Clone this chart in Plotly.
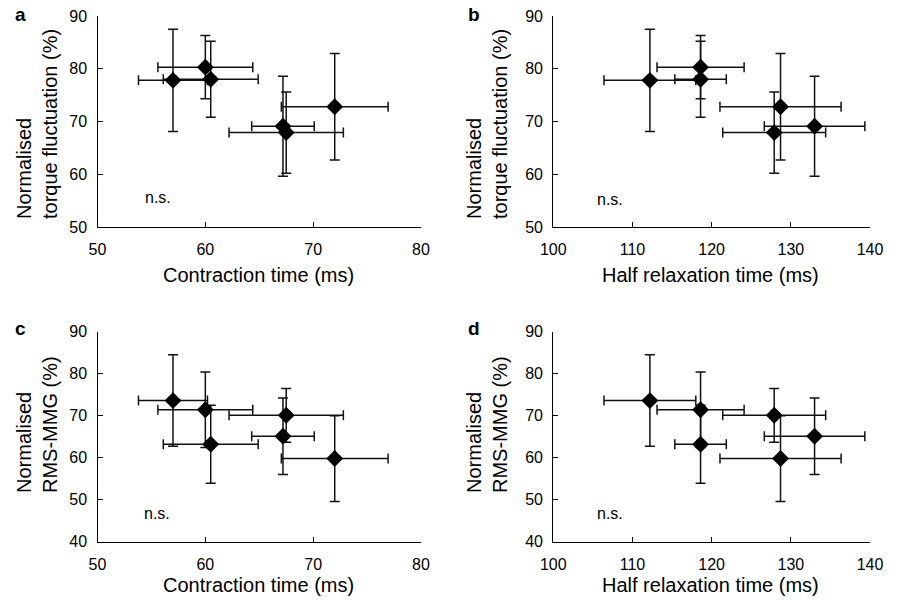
import plotly.graph_objects as go

# Data (6 conditions)
contraction_time = [57.0, 60.0, 60.5, 67.2, 67.5, 72.0]
contraction_time_sd = [3.2, 4.4, 4.4, 2.9, 5.3, 4.95]
half_relax_time = [112.2, 118.6, 118.6, 133.0, 127.9, 128.7]
half_relax_time_sd = [5.8, 5.5, 3.25, 6.35, 6.5, 7.65]
torque_fluct = [77.8, 80.3, 78.0, 69.1, 67.9, 72.8]
torque_fluct_sd = [9.7, 6.0, 7.2, 9.5, 7.7, 10.1]
rms_mmg = [73.6, 71.4, 63.2, 65.1, 70.1, 59.8]
rms_mmg_sd = [10.9, 9.0, 9.3, 9.1, 6.4, 10.2]

ct_ticks = [50, 60, 70, 80]
hrt_ticks = [100, 110, 120, 130, 140]
tf_ticks = [50, 60, 70, 80, 90]
rms_ticks = [40, 50, 60, 70, 80, 90]

W, H = 898, 601
FONT = "Liberation Sans, Arial, Helvetica, sans-serif"

def px(v):
    return v / W

def py(v):
    return 1 - v / H

fig = go.Figure()

panels = [
    (contraction_time, contraction_time_sd, torque_fluct, torque_fluct_sd, "x", "y"),
    (half_relax_time, half_relax_time_sd, torque_fluct, torque_fluct_sd, "x2", "y2"),
    (contraction_time, contraction_time_sd, rms_mmg, rms_mmg_sd, "x3", "y3"),
    (half_relax_time, half_relax_time_sd, rms_mmg, rms_mmg_sd, "x4", "y4"),
]

for xs, xe, ys, ye, xa, ya in panels:
    fig.add_trace(go.Scatter(
        x=xs, y=ys, mode="markers", xaxis=xa, yaxis=ya,
        marker=dict(symbol="diamond", size=13, color="black"),
        error_x=dict(type="data", array=xe, color="#111", thickness=1.5, width=5),
        error_y=dict(type="data", array=ye, color="#111", thickness=1.5, width=5),
        showlegend=False, cliponaxis=False,
    ))

left_dom = [px(97.5), px(421)]
right_dom = [px(553.3), px(870)]
top_dom = [py(227), py(16)]
bot_dom = [py(541.7), py(331.7)]

def axis_style(rng, ticks, dom, anchor, ylike=False):
    return dict(
        range=rng, tickvals=ticks, domain=dom, anchor=anchor,
        showline=True, linecolor="black", linewidth=1.3,
        ticks="inside", ticklen=5, tickwidth=1.3, tickcolor="black",
        showgrid=False, zeroline=False, fixedrange=True, automargin=False,
        tickfont=dict(family=FONT, size=16, color="black"),
        ticklabelstandoff=6 if ylike else 8,
    )

fig.update_layout(
    width=W, height=H,
    margin=dict(l=0, r=0, t=0, b=0, autoexpand=False),
    paper_bgcolor="white", plot_bgcolor="white",
    font=dict(family=FONT, color="black"),
    xaxis=axis_style([50, 80], ct_ticks, left_dom, "y"),
    yaxis=axis_style([50, 90], tf_ticks, top_dom, "x", True),
    xaxis2=axis_style([100, 140], hrt_ticks, right_dom, "y2"),
    yaxis2=axis_style([50, 90], tf_ticks, top_dom, "x2", True),
    xaxis3=axis_style([50, 80], ct_ticks, left_dom, "y3"),
    yaxis3=axis_style([40, 90], rms_ticks, bot_dom, "x3", True),
    xaxis4=axis_style([100, 140], hrt_ticks, right_dom, "y4"),
    yaxis4=axis_style([40, 90], rms_ticks, bot_dom, "x4", True),
)

ann = []
for xc, yc, txt in [(258, 275, "Contraction time (ms)"), (710, 275, "Half relaxation time (ms)"),
                    (258, 585, "Contraction time (ms)"), (710, 585, "Half relaxation time (ms)")]:
    ann.append(dict(x=px(xc), y=py(yc), xref="paper", yref="paper", text=txt, showarrow=False,
                    xanchor="center", yanchor="middle", font=dict(family=FONT, size=20, color="black")))
for xc, yc, txt in [(37, 124, "Normalised<br>torque fluctuation (%)"), (487, 124, "Normalised<br>torque fluctuation (%)"),
                    (37, 425, "Normalised<br>RMS-MMG (%)"), (487, 425, "Normalised<br>RMS-MMG (%)")]:
    ann.append(dict(x=px(xc), y=py(yc), xref="paper", yref="paper", text=txt, showarrow=False,
                    textangle=-90, align="left", xanchor="center", yanchor="middle",
                    font=dict(family=FONT, size=20, color="black")))
for xc, yc, txt in [(20, 15, "a"), (474, 15, "b"), (20, 328, "c"), (474, 328, "d")]:
    ann.append(dict(x=px(xc), y=py(yc), xref="paper", yref="paper", text="<b>%s</b>" % txt, showarrow=False,
                    xanchor="center", yanchor="middle", font=dict(family=FONT, size=19, color="black")))
for xr, yr, xv, yv in [("x", "y", 54.2, 55.6), ("x2", "y2", 105.3, 55.3),
                       ("x3", "y3", 54.1, 46.6), ("x4", "y4", 105.3, 46.6)]:
    ann.append(dict(x=xv, y=yv, xref=xr, yref=yr, text="n.s.", showarrow=False,
                    xanchor="left", yanchor="middle", font=dict(family=FONT, size=16, color="black")))

fig.update_layout(annotations=ann)
fig.write_html("out.html")
